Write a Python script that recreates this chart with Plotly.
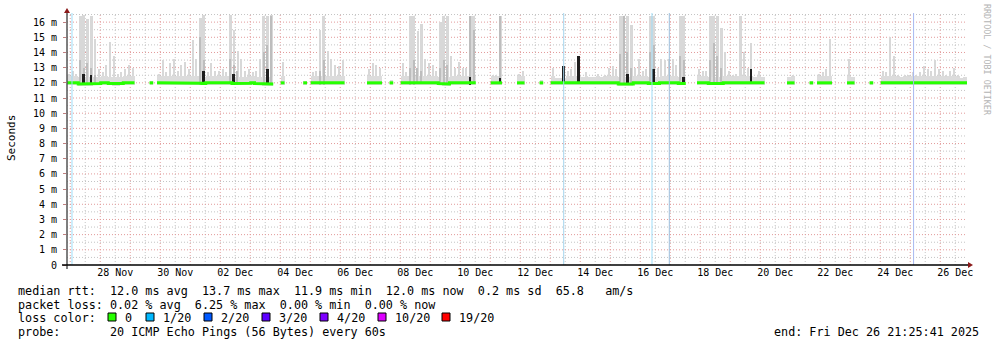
import plotly.graph_objects as go
from datetime import datetime, timedelta

START = datetime(2025, 11, 26, 21, 25, 41)
END = datetime(2025, 12, 26, 21, 25, 41)
BIN_HOURS = 3

N = None
# median rtt per 3-hour bin (ms); None = no data
median_ms = [
    12.0, 12.0, 12.0, 11.93, 11.93, 11.93, 11.93, 11.95, 11.95, 12.0, 12.0, 11.95, 11.93, 11.93, 11.95, 12.0, 12.0, 12.0, N, N,
    N, N, 12.0, N, 12.0, 12.0, 12.0, 12.0, 12.0, 12.0, 12.0, 12.0, 12.0, 12.0, 12.0, 11.97, 11.95, 12.0, 12.0, 12.0,
    12.0, 12.0, 12.0, 12.0, 11.95, 11.95, 11.95, 11.95, 11.97, 12.0, 11.95, 11.95, 11.93, 11.93, 11.93, N, N, 12.0, N, N,
    N, N, N, 12.0, N, 12.0, 12.0, 11.97, 11.97, 11.97, 12.0, 12.0, 12.0, 12.0, N, N, N, N, N, N,
    12.0, 12.0, 12.0, 12.0, N, N, 12.0, N, N, 12.0, 12.0, 11.97, 11.97, 12.0, 12.0, 12.0, 12.0, 12.0, 12.0, 11.95,
    11.93, 11.93, 12.0, 12.0, 12.0, 12.0, 12.0, 11.97, 12.0, N, N, N, N, 12.0, 12.0, 12.0, N, N, N, N,
    12.0, 12.0, N, N, N, N, 12.0, N, N, 12.0, 12.0, 12.0, 12.0, 12.0, 12.0, 12.0, 12.0, 12.0, 12.0, 12.0,
    12.0, 12.0, 12.0, 12.0, 12.0, 12.0, 12.0, 11.93, 11.93, 11.93, 11.93, 12.0, 12.0, 12.0, 12.0, 11.95, 11.95, 11.95, 12.0, 12.0,
    12.0, 12.0, 12.0, 11.95, 11.95, N, N, N, 12.0, 12.0, 12.0, 11.95, 11.95, 11.95, 11.95, 12.0, 12.0, 12.0, 12.0, 12.0,
    12.0, 12.0, 12.0, 12.0, 12.0, 12.0, N, N, N, N, N, N, 12.0, 12.0, N, N, N, N, 12.0, N,
    12.0, 12.0, 12.0, 12.0, N, N, N, N, 12.0, 12.0, N, N, N, N, 12.0, N, N, 12.0, 12.0, 12.0,
    12.0, 12.0, 12.0, 12.0, 12.0, 12.0, 12.0, 12.0, 12.0, 12.0, 12.0, 12.0, 12.0, 12.0, 12.0, 12.0, 12.0, 12.0, 12.0, 12.0,
]

# highest ping (light smoke top) per bin (ms)
smoke_top_ms = [
    12.6, 12.8, 12.6, 16.4, 16.5, 16.2, 16.4, 14.9, 12.9, 12.7, 13.2, 14.7, 13.8, 12.6, 12.7, 12.9, 13.2, 13.0, N, N,
    N, N, 12.1, N, 12.6, 13.5, 12.7, 13.3, 13.6, 12.8, 13.2, 13.4, 12.9, 14.8, 13.6, 16.3, 16.5, 12.7, 13.3, 12.8,
    12.8, 12.9, 12.7, 16.5, 15.5, 14.1, 13.6, 12.8, 12.9, 12.7, 12.8, 13.6, 16.4, 16.4, 16.5, N, N, 13.4, N, N,
    N, N, N, 12.1, N, 12.7, 12.8, 15.5, 16.4, 14.1, 13.6, 13.2, 13.1, 13.5, N, N, N, N, N, N,
    12.9, 13.3, 13.2, 13.0, N, N, 12.2, N, N, 13.3, 12.7, 16.4, 16.4, 15.4, 15.9, 13.6, 13.3, 13.2, 12.8, 16.0,
    16.4, 16.4, 13.8, 13.0, 13.4, 13.0, 13.0, 16.4, 16.4, N, N, N, N, 12.5, 12.5, 16.4, N, N, N, N,
    12.6, 12.8, N, N, N, N, 12.2, N, N, 13.0, 12.3, 12.3, 12.3, 12.8, 12.9, 13.4, 13.8, 12.4, 12.7, 12.4,
    12.4, 12.6, 12.4, 12.5, 13.0, 13.1, 12.9, 16.4, 16.4, 16.4, 15.8, 13.0, 13.6, 12.8, 12.9, 16.4, 16.4, 13.0, 13.6, 13.5,
    13.6, 13.6, 13.2, 16.4, 16.4, N, N, N, 12.9, 12.8, 12.8, 16.4, 16.4, 16.4, 15.6, 14.0, 12.8, 12.5, 12.6, 16.4,
    14.0, 13.0, 14.6, 12.4, 12.8, 12.4, N, N, N, N, N, N, 12.4, 12.5, N, N, N, N, 12.1, N,
    12.6, 12.7, 12.9, 14.9, N, N, N, N, 13.6, 12.4, N, N, N, N, 12.1, N, N, 12.8, 12.7, 15.0,
    13.8, 12.5, 12.4, 12.5, 12.5, 12.7, 12.5, 12.7, 13.1, 12.9, 12.8, 13.5, 12.9, 12.8, 12.5, 12.8, 13.0, 12.5, 12.3, 12.4,
]

# darker smoke (middle pings) where it rises visibly
mid_bins = [3, 4, 5, 6, 7, 35, 36, 43, 44, 45, 52, 53, 54, 67, 68, 91, 92, 93, 94, 99, 100, 101,
            107, 108, 115, 147, 148, 149, 150, 155, 156, 163, 164, 171, 172, 173, 174]
mid_tops = [13.5, 13.0, 13.3, 13.0, 12.5, 15.0, 13.5, 13.6, 13.2, 12.8, 14.0, 14.5, 16.4, 12.8, 13.5,
            13.0, 13.5, 13.0, 12.8, 13.0, 13.5, 13.2, 16.4, 15.5, 16.4, 13.9, 16.4, 14.0, 13.0, 14.0, 14.5,
            13.8, 13.5, 13.5, 14.6, 13.8, 13.0]

# near-black columns (lowest pings high)
dark_bins = [4, 6, 36, 44, 53, 107, 115, 132, 136, 149, 156, 164, 182]
dark_tops = [12.6, 12.5, 12.8, 12.6, 12.9, 12.4, 12.3, 13.1, 13.8, 12.6, 12.9, 12.4, 12.9]

# full-height loss marker lines
loss_line_times = ["2025-11-27 01:25", "2025-12-13 10:47", "2025-12-16 09:25",
                   "2025-12-16 23:16", "2025-12-25 02:42"]
loss_line_colors = ["#9fdcf7", "#a6d6ee", "#9fdcf7", "#9cbfdc", "#a8b8f0"]

tick_dates = ["2025-11-28 12:00", "2025-11-30 12:00", "2025-12-02 12:00", "2025-12-04 12:00",
              "2025-12-06 12:00", "2025-12-08 12:00", "2025-12-10 12:00", "2025-12-12 12:00",
              "2025-12-14 12:00", "2025-12-16 12:00", "2025-12-18 12:00", "2025-12-20 12:00",
              "2025-12-22 12:00", "2025-12-24 12:00", "2025-12-26 12:00"]
tick_labels = ["28 Nov", "30 Nov", "02 Dec", "04 Dec", "06 Dec", "08 Dec", "10 Dec", "12 Dec",
               "14 Dec", "16 Dec", "18 Dec", "20 Dec", "22 Dec", "24 Dec", "26 Dec"]
y_tick_vals = [0, 1, 2, 3, 4, 5, 6, 7, 8, 9, 10, 11, 12, 13, 14, 15, 16]
y_tick_text = ["0", "1 m", "2 m", "3 m", "4 m", "5 m", "6 m", "7 m", "8 m", "9 m", "10 m",
               "11 m", "12 m", "13 m", "14 m", "15 m", "16 m"]

loss_labels = ["0", "1/20", "2/20", "3/20", "4/20", "10/20", "19/20"]
loss_colors = ["#26ff00", "#00b8ff", "#0059ff", "#5e00ff", "#7e00ff", "#dd00ff", "#ff0000"]

stat_line1 = "median rtt:  12.0 ms avg  13.7 ms max  11.9 ms min  12.0 ms now  0.2 ms sd  65.8   am/s"
stat_line2 = "packet loss: 0.02 % avg  6.25 % max  0.00 % min  0.00 % now"
stat_line3 = "loss color:"
stat_line4 = "probe:       20 ICMP Echo Pings (56 Bytes) every 60s"
end_text = "end: Fri Dec 26 21:25:41 2025"

# ---------------------------------------------------------------- layout geometry
W, H = 997, 347
L, R, T, B = 67, 30, 13, 82
PW, PH = W - L - R, H - T - B
YMAX = 16.6
BODY = 0.45          # height of the dense smoke body above the median (style)
MONO = "DejaVu Sans Mono"
TXT = 11.75


def px(x):
    return (x - L) / PW


def py(y):
    return (H - B - y) / PH


def nb(s):
    return s.replace(" ", "\u00a0")


bin_td = timedelta(hours=BIN_HOURS)
bin_ms = BIN_HOURS * 3600 * 1000
centers = [START + bin_td * i + bin_td / 2 for i in range(len(median_ms))]

fig = go.Figure()

# light smoke: dense body (full bin width) + upper spikes (wider where clusters are tall)
bx, bb, by = [], [], []
sx_, sb, sy, sw = [], [], [], []
for i, (m, t) in enumerate(zip(median_ms, smoke_top_ms)):
    if m is None or t is None:
        continue
    lo = m - 0.12
    body_top = min(t, m + BODY)
    bx.append(centers[i]); bb.append(lo); by.append(body_top - lo)
    if t > body_top:
        sx_.append(centers[i]); sb.append(body_top - 0.01); sy.append(t - body_top + 0.01)
        sw.append(bin_ms * (0.8 if t > 15.5 else 0.55))
fig.add_trace(go.Bar(x=bx, base=bb, y=by, width=bin_ms, marker=dict(color="#dcdcdc", line=dict(width=0)),
                     hoverinfo="skip", showlegend=False))
fig.add_trace(go.Bar(x=sx_, base=sb, y=sy, width=sw, marker=dict(color="#d8d8d8", line=dict(width=0)),
                     hoverinfo="skip", showlegend=False))

# medium smoke
mx, mb, my = [], [], []
for b, t in zip(mid_bins, mid_tops):
    m = median_ms[b]
    mx.append(centers[b]); mb.append(m - 0.08); my.append(t - (m - 0.08))
fig.add_trace(go.Bar(x=mx, base=mb, y=my, width=bin_ms * 0.45, marker=dict(color="#bdbdbd", line=dict(width=0)),
                     hoverinfo="skip", showlegend=False))

# dark columns
dx, db, dy = [], [], []
for b, t in zip(dark_bins, dark_tops):
    m = median_ms[b]
    dx.append(centers[b]); db.append(m - 0.1); dy.append(t - (m - 0.1))
fig.add_trace(go.Bar(x=dx, base=db, y=dy, width=bin_ms * 0.5, marker=dict(color="#1e1e1e", line=dict(width=0)),
                     hoverinfo="skip", showlegend=False))

# median line
gx, gy = [], []
for i, m in enumerate(median_ms):
    if m is None:
        continue
    gx += [START + bin_td * i, START + bin_td * (i + 1)]
    gy += [m, m]
    if i + 1 >= len(median_ms) or median_ms[i + 1] is None:
        gx.append(None); gy.append(None)
fig.add_trace(go.Scatter(x=gx, y=gy, mode="lines", line=dict(color="#26ff00", width=3),
                         connectgaps=False, hoverinfo="skip", showlegend=False))

shapes = []
# grid: vertical
for d in range(0, 31):
    mid_night = datetime(2025, 11, 27) + timedelta(days=d)
    noon = datetime(2025, 11, 27, 12) + timedelta(days=d)
    for tt, col in ((noon, "#c4c4c4"), (mid_night, "#e29a9a")):
        if START < tt < END:
            shapes.append(dict(type="line", xref="x", yref="paper", x0=tt, x1=tt, y0=0, y1=1,
                               line=dict(color=col, width=1, dash="1px,2px"), layer="below"))
# grid: horizontal
for k in range(1, 34):
    v = k * 0.5
    col = "#e29a9a" if k % 2 == 0 else "#c4c4c4"
    shapes.append(dict(type="line", xref="paper", yref="y", x0=0, x1=1, y0=v, y1=v,
                       line=dict(color=col, width=1, dash="1px,2px"), layer="below"))

# loss lines
for tt, col in zip(loss_line_times, loss_line_colors):
    shapes.append(dict(type="line", xref="x", yref="paper", x0=tt, x1=tt, y0=0, y1=1,
                       line=dict(color=col, width=1), layer="above"))

# axes
shapes.append(dict(type="line", xref="paper", yref="paper", x0=px(67), x1=px(67), y0=py(269), y1=py(12),
                   line=dict(color="#555555", width=1.5)))
shapes.append(dict(type="line", xref="paper", yref="paper", x0=px(62), x1=px(970), y0=py(265), y1=py(265),
                   line=dict(color="#000000", width=1.5)))
shapes.append(dict(type="path", xref="paper", yref="paper",
                   path=f"M {px(64)},{py(13)} L {px(70)},{py(13)} L {px(67)},{py(8)} Z",
                   fillcolor="#8b1a1a", line=dict(width=0)))
shapes.append(dict(type="path", xref="paper", yref="paper",
                   path=f"M {px(968)},{py(262)} L {px(968)},{py(268)} L {px(973)},{py(265)} Z",
                   fillcolor="#8b1a1a", line=dict(width=0)))

# loss color legend squares
sq_x = [108, 146, 204, 262, 320, 378, 442]
annotations = []
for sqx, col, lab in zip(sq_x, loss_colors, loss_labels):
    shapes.append(dict(type="rect", xref="paper", yref="paper", x0=px(sqx), x1=px(sqx + 8),
                       y0=py(321), y1=py(313), fillcolor=col, line=dict(color="#000000", width=1)))
    annotations.append(dict(text=nb(lab), xref="paper", yref="paper", x=px(sqx + 15), y=py(318),
                            xanchor="left", yanchor="middle", showarrow=False,
                            font=dict(family=MONO, size=TXT, color="#000000")))

for txt, yy in ((stat_line1, 291), (stat_line2, 305), (stat_line3, 318), (stat_line4, 332)):
    annotations.append(dict(text=nb(txt), xref="paper", yref="paper", x=px(16), y=py(yy),
                            xanchor="left", yanchor="middle", showarrow=False,
                            font=dict(family=MONO, size=TXT, color="#000000")))
annotations.append(dict(text=nb(end_text), xref="paper", yref="paper", x=px(981), y=py(332),
                        xanchor="right", yanchor="middle", showarrow=False,
                        font=dict(family=MONO, size=TXT, color="#000000")))
annotations.append(dict(text="Seconds", xref="paper", yref="paper", x=px(11), y=py(138),
                        xanchor="center", yanchor="middle", textangle=-90, showarrow=False,
                        font=dict(family=MONO, size=11, color="#000000")))
annotations.append(dict(text=nb("RRDTOOL / TOBI OETIKER"), xref="paper", yref="paper", x=px(987), y=py(60),
                        xanchor="center", yanchor="middle", textangle=90, showarrow=False,
                        font=dict(family=MONO, size=8.4, color="#b4b4b4")))

fig.update_layout(
    width=W, height=H, margin=dict(l=L, r=R, t=T, b=B, pad=0),
    paper_bgcolor="#ffffff", plot_bgcolor="#ffffff",
    barmode="overlay", bargap=0, showlegend=False,
    shapes=shapes, annotations=annotations,
    xaxis=dict(type="date", range=[START, END], tickmode="array", tickvals=tick_dates, ticktext=tick_labels,
               showgrid=False, zeroline=False, showline=False, ticks="",
               tickfont=dict(family=MONO, size=10, color="#000000"), fixedrange=True),
    yaxis=dict(range=[0, YMAX], tickmode="array", tickvals=y_tick_vals, ticktext=y_tick_text,
               showgrid=False, zeroline=False, showline=False, ticks="outside", ticklen=3,
               tickcolor="#c08080", ticklabelstandoff=4,
               tickfont=dict(family=MONO, size=10, color="#000000"), fixedrange=True),
)

fig.write_html("out.html")
